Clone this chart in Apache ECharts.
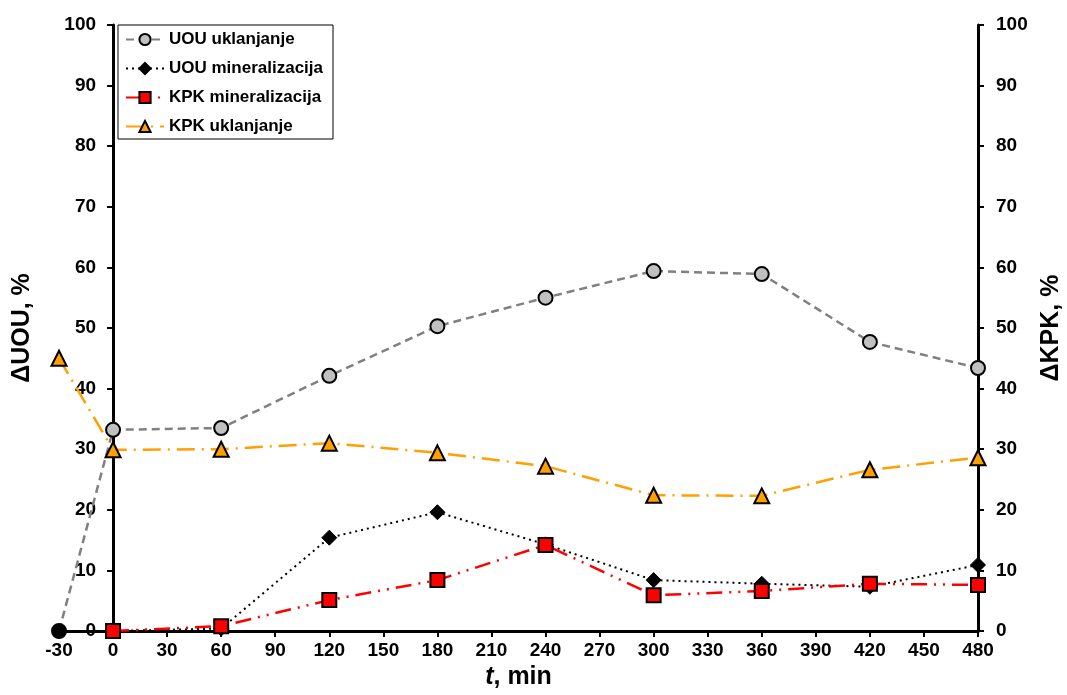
<!DOCTYPE html>
<html>
<head>
<meta charset="utf-8">
<script src="https://cdn.jsdelivr.net/npm/echarts@6/dist/echarts.min.js"></script>
<style>html,body{margin:0;padding:0;background:#fff;}#c{width:1067px;height:695px;}</style>
</head>
<body>
<div id="c"></div>
<script>
// time points (min)
var times = [-30, 0, 60, 120, 180, 240, 300, 360, 420, 480];
// series values (null = no point)
var uouUklanjanje      = [0, 33.2, 33.5, 42.1, 50.3, 55.0, 59.4, 58.9, 47.7, 43.4];
var uouMineralizacija  = [null, 0, 0.4, 15.4, 19.6, 14.3, 8.4, 7.8, 7.3, 10.9];
var kpkMineralizacija  = [null, 0, 0.8, 5.1, 8.4, 14.2, 5.9, 6.6, 7.8, 7.6];
var kpkUklanjanje      = [45.0, 29.9, 30.0, 31.0, 29.4, 27.2, 22.4, 22.3, 26.6, 28.6];
var xTicks = {min: -30, max: 480, interval: 30};
var yTicks = {min: 0, max: 100, interval: 10};
var names = ['UOU uklanjanje', 'UOU mineralizacija', 'KPK mineralizacija', 'KPK uklanjanje'];

function pairs(vals) {
  var out = [];
  for (var i = 0; i < times.length; i++) {
    if (vals[i] !== null) out.push([times[i], vals[i]]);
  }
  return out;
}

var FONT = "'Liberation Sans', Arial, sans-serif";
var GRID = {left: 59, right: 89, top: 25, bottom: 64};
var W = 1067;
var plotW = W - GRID.left - GRID.right;
// shift of left y axis so that it sits at t = 0
var leftAxisShift = plotW * (0 - xTicks.min) / (xTicks.max - xTicks.min);

var chart = echarts.init(document.getElementById('c'), null, {renderer: 'canvas'});

var uouData = pairs(uouUklanjanje);
uouData[0] = {value: uouData[0], itemStyle: {color: '#000000'}};

var axisLabelStyle = {color: '#000', fontWeight: 'bold', fontSize: 19, fontFamily: FONT};

var option = {
  backgroundColor: '#fff',
  animation: false,
  textStyle: {fontFamily: FONT},
  grid: {left: GRID.left, right: GRID.right, top: GRID.top, bottom: GRID.bottom, outerBoundsMode: 'none', containLabel: false},
  legend: {
    orient: 'vertical',
    left: 118, top: 25,
    backgroundColor: '#fff',
    borderColor: '#000', borderWidth: 1,
    padding: [6, 10, 4, 7],
    itemWidth: 38, itemHeight: 14, itemGap: 12,
    textStyle: {color: '#000', fontWeight: 'bold', fontSize: 17, fontFamily: FONT, lineHeight: 17},
    data: names
  },
  xAxis: {
    type: 'value',
    min: xTicks.min, max: xTicks.max, interval: xTicks.interval,
    name: '{i|t}{n|, min}',
    nameLocation: 'middle', nameGap: 32,
    nameTextStyle: {
      rich: {
        i: {fontStyle: 'italic', fontWeight: 'bold', fontSize: 25, color: '#000', fontFamily: FONT},
        n: {fontWeight: 'bold', fontSize: 25, color: '#000', fontFamily: FONT}
      }
    },
    axisLine: {onZero: false, lineStyle: {color: '#000', width: 3}},
    axisTick: {show: true, inside: false, length: 6, lineStyle: {color: '#000', width: 2}},
    axisLabel: Object.assign({margin: 10}, axisLabelStyle),
    splitLine: {show: false}
  },
  yAxis: [
    {
      type: 'value', position: 'left', offset: -leftAxisShift,
      min: yTicks.min, max: yTicks.max, interval: yTicks.interval,
      name: 'ΔUOU, %', nameLocation: 'middle', nameGap: 78, nameRotate: 90,
      nameTextStyle: {color: '#000', fontWeight: 'bold', fontSize: 25, fontFamily: FONT},
      axisLine: {show: true, onZero: false, lineStyle: {color: '#000', width: 3}},
      axisTick: {show: true, inside: false, length: 6, lineStyle: {color: '#000', width: 2}},
      axisLabel: Object.assign({margin: 17}, axisLabelStyle),
      splitLine: {show: false}
    },
    {
      type: 'value', position: 'right',
      min: yTicks.min, max: yTicks.max, interval: yTicks.interval,
      name: 'ΔKPK, %', nameLocation: 'middle', nameGap: 57, nameRotate: 90,
      nameTextStyle: {color: '#000', fontWeight: 'bold', fontSize: 25, fontFamily: FONT},
      axisLine: {show: true, onZero: false, lineStyle: {color: '#000', width: 3}},
      axisTick: {show: true, inside: false, length: 6, lineStyle: {color: '#000', width: 2}},
      axisLabel: Object.assign({margin: 18}, axisLabelStyle),
      splitLine: {show: false}
    }
  ],
  series: [
    {
      name: names[0], type: 'line', yAxisIndex: 0, clip: false,
      data: uouData,
      symbol: 'circle', symbolSize: 14,
      lineStyle: {color: '#808080', width: 2.5, type: [8, 5]},
      itemStyle: {color: '#C0C0C0', borderColor: '#000', borderWidth: 2}
    },
    {
      name: names[1], type: 'line', yAxisIndex: 0, clip: false,
      data: pairs(uouMineralizacija),
      symbol: 'diamond', symbolSize: 15,
      lineStyle: {color: '#000', width: 2, type: [2, 4]},
      itemStyle: {color: '#000', borderColor: '#000', borderWidth: 1}
    },
    {
      name: names[2], type: 'line', yAxisIndex: 0, clip: false,
      data: pairs(kpkMineralizacija),
      symbol: 'rect', symbolSize: 14,
      lineStyle: {color: '#FF0000', width: 2.5, type: [16, 7, 2, 7, 2, 7]},
      itemStyle: {color: '#FF0000', borderColor: '#000', borderWidth: 2}
    },
    {
      name: names[3], type: 'line', yAxisIndex: 0, clip: false,
      data: pairs(kpkUklanjanje),
      symbol: 'triangle', symbolSize: 15,
      lineStyle: {color: '#FFA000', width: 2.5, type: [18, 7, 2, 7]},
      itemStyle: {color: '#FFA000', borderColor: '#000', borderWidth: 2}
    }
  ]
};
chart.setOption(option);
</script>
</body>
</html>
